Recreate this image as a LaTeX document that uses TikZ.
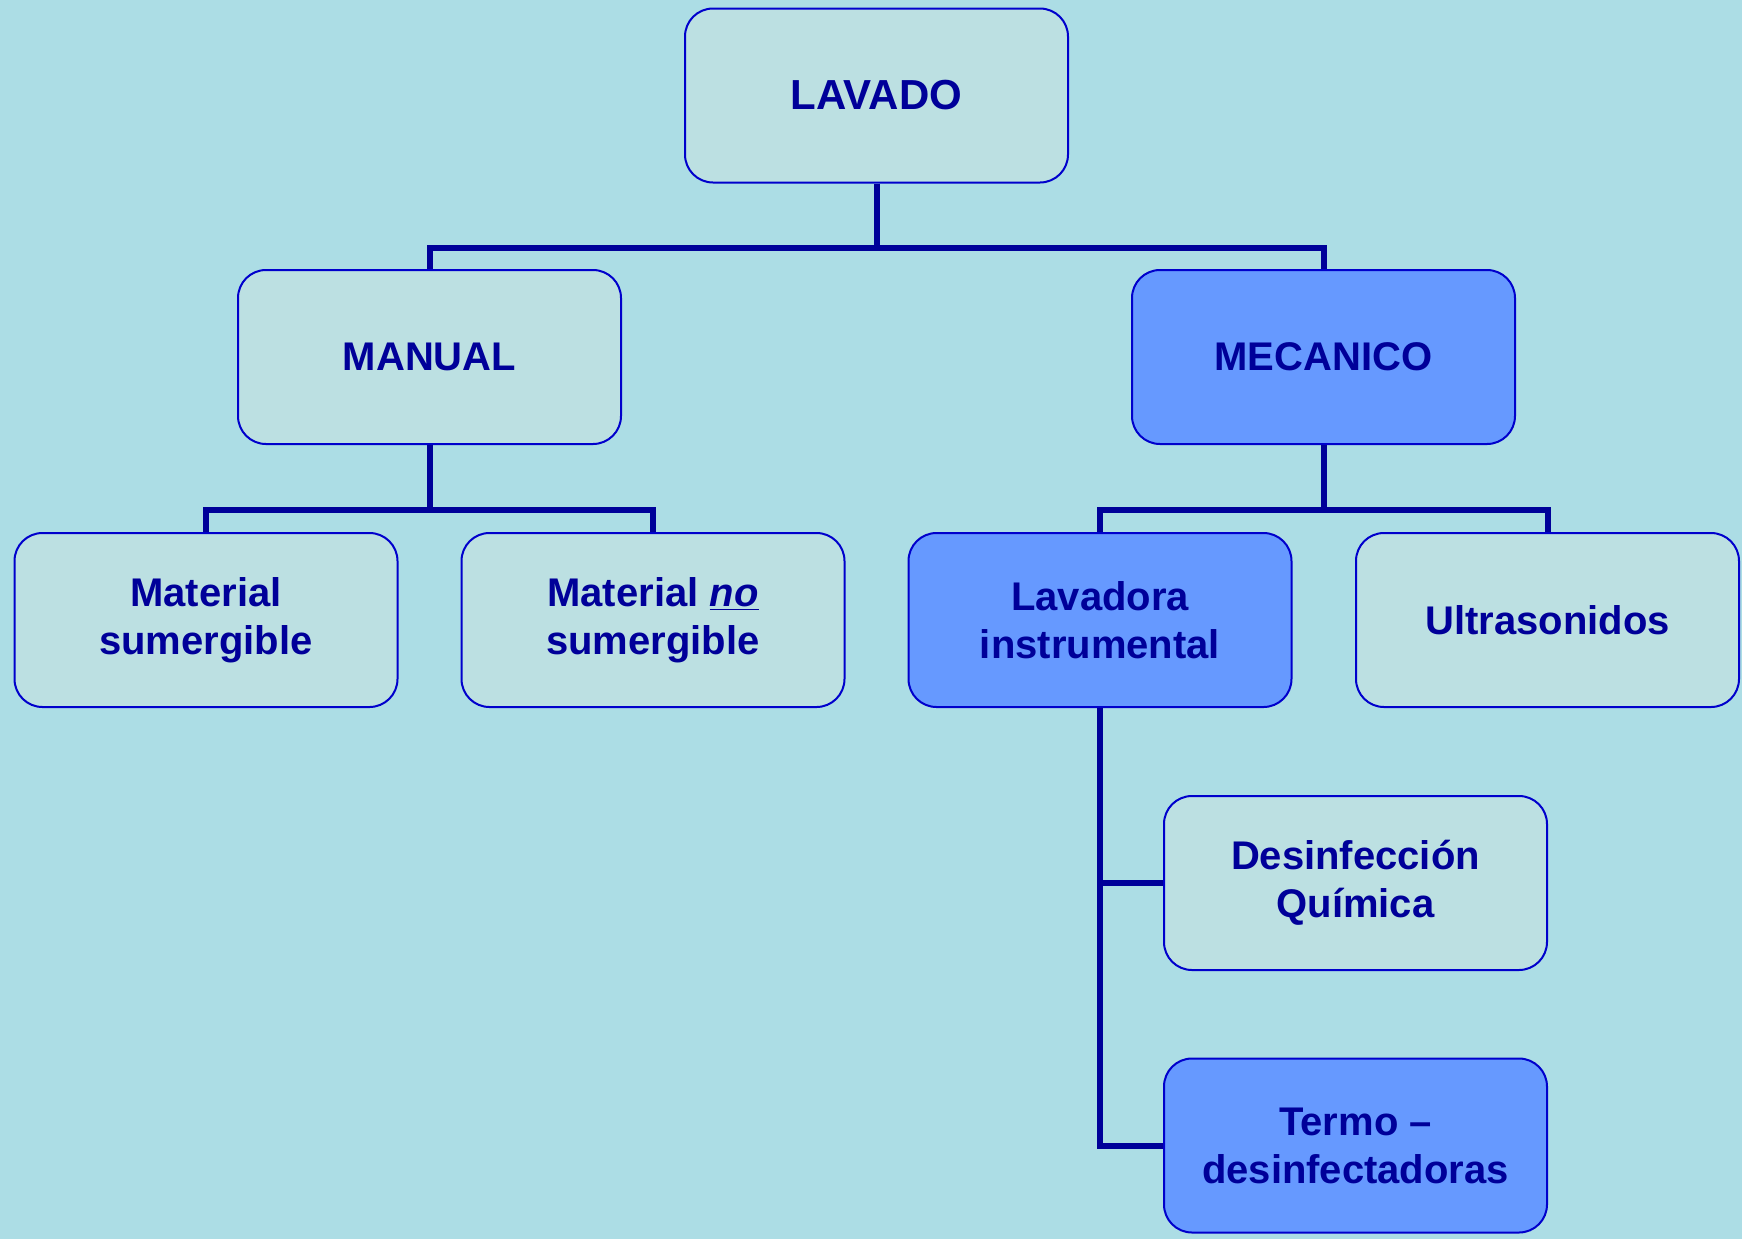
\documentclass[tikz,border=0pt]{standalone}
\usepackage{fontspec}
\setmainfont{Liberation Sans}
\usetikzlibrary{calc,positioning}
\definecolor{Navy}{HTML}{000099}
\definecolor{Edge}{HTML}{0000CC}
\definecolor{Water}{HTML}{ACDDE5}
\definecolor{Pale}{HTML}{BCE0E2}
\definecolor{Sky}{HTML}{6699FF}

\begin{document}
\begin{tikzpicture}[x=0.5pt,y=-0.5pt,
    box/.style={draw=Edge,line width=1pt,rounded corners=14pt,fill=Pale,
      minimum width=191.5pt,minimum height=87pt,inner sep=0pt,align=center,
      text=Navy,font=\fontsize{20}{24}\selectfont\bfseries},
    hot/.style={box,fill=Sky},
    link/.style={draw=Navy,line width=3pt}]
    \fill[Water] (0,0) rectangle (1742,1239);
    \useasboundingbox (0,0) rectangle (1742,1239);
    % levels
    \node[box] (lavado) at (876.5,95.5) {\fontsize{21}{24}\selectfont LAVADO};
    \node[box] (manual) at (429.5,357) {MANUAL};
    \node[hot] (mecanico) at (1323.5,357) {MECANICO};
    \node[box] (sumer) at (206,620) {Material\\sumergible};
    \node[box] (nosumer) at (653,620) {Material \underline{\textit{no}}\\sumergible};
    \node[hot] (lavadora) at (1100,620) {Lavadora\\instrumental};
    \node[box] (ultra) at (1547.5,620) {Ultrasonidos};
    \node[box] (desinf) at (1355.5,883) {Desinfección\\Química};
    \node[hot] (termo) at (1355.5,1145.5) {Termo –\\desinfectadoras};
    % connectors
    \draw[link] (lavado.south) -- ++(0,64) -| (manual.north);
    \draw[link] (lavado.south) -- ++(0,64) -| (mecanico.north);
    \draw[link] (manual.south) -- ++(0,65) -| (sumer.north);
    \draw[link] (manual.south) -- ++(0,65) -| (nosumer.north);
    \draw[link] (mecanico.south) -- ++(0,65) -| (lavadora.north);
    \draw[link] (mecanico.south) -- ++(0,65) -| (ultra.north);
    \draw[link] (lavadora.south) |- (desinf.west);
    \draw[link] (lavadora.south) |- (termo.west);
  \end{tikzpicture}
\end{document}
